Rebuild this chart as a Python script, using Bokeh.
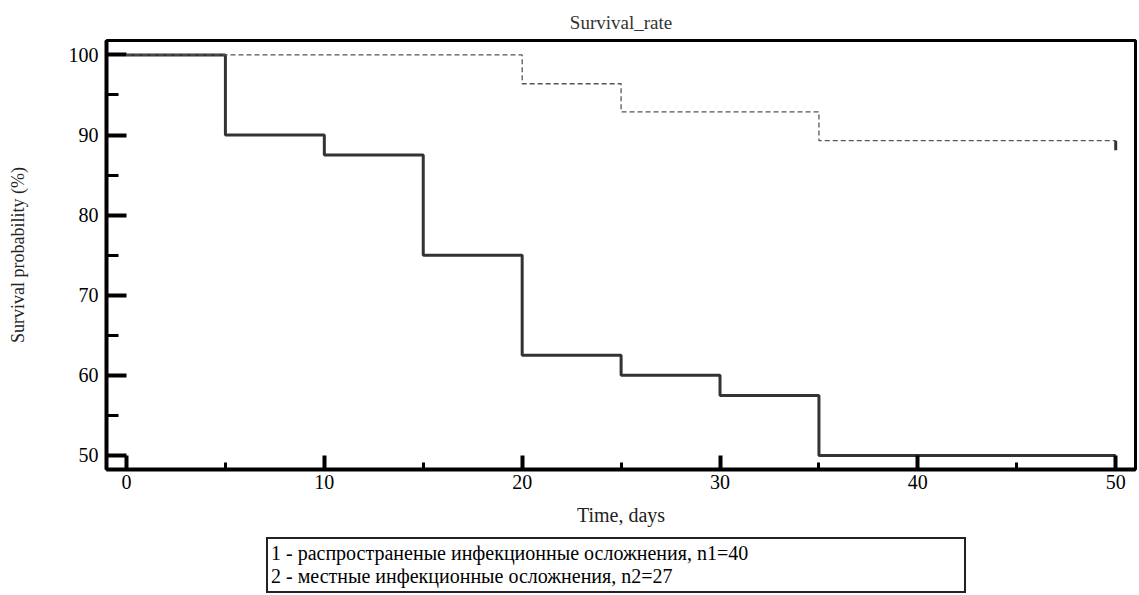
from bokeh.plotting import figure
from bokeh.models import Range1d, FixedTicker, Legend, LegendItem
from bokeh.layouts import column
from bokeh.embed import file_html
from bokeh.resources import INLINE

# ---- data ----
t1 = [0, 5, 10, 15, 20, 25, 30, 35, 50]
s1 = [100, 90, 87.5, 75, 62.5, 60, 57.5, 50, 50]
t2 = [0, 20, 25, 35, 50]
s2 = [100, 96.4, 92.9, 89.3, 89.3]
censor_x = [50]
censor_y0 = [89.3]
censor_y1 = [88.1]
x_major = [0, 10, 20, 30, 40, 50]
x_minor = [5, 15, 25, 35, 45]
y_major = [50, 60, 70, 80, 90, 100]
y_minor = [55, 65, 75, 85, 95]
title_text = "Survival_rate"
x_label = "Time, days"
y_label = "Survival probability (%)"
legend_lines = ["1 - распространеные инфекционные осложнения, n1=40",
                "2 - местные инфекционные осложнения, n2=27"]

FONT = "Liberation Serif"

p = figure(width=1139, height=532, output_backend="svg", toolbar_location=None,
           x_range=Range1d(-1.01, 51.0), y_range=Range1d(48.25, 101.8),
           min_border_left=106, min_border_right=4, min_border_top=40, min_border_bottom=63)

p.title.text = title_text
p.title.align = "center"
p.title.vertical_align = "middle"
p.title.text_font = FONT
p.title.text_font_size = "19px"
p.title.text_font_style = "normal"
p.title.text_color = "#333333"
p.title.standoff = 14

p.outline_line_color = "black"
p.outline_line_width = 3
p.grid.visible = False
p.background_fill_color = "white"
p.border_fill_color = "white"

p.step(t1, s1, mode="after", line_color="#333333", line_width=3)
p.step(t2, s2, mode="after", line_color="#555555", line_width=1.3, line_dash="5 3")
p.segment(x0=censor_x, y0=censor_y0, x1=censor_x, y1=censor_y1, line_color="#333333", line_width=3)

xa = p.xaxis[0]
xa.ticker = FixedTicker(ticks=x_major, minor_ticks=x_minor)
xa.major_tick_in = 14
xa.major_tick_out = 0
xa.minor_tick_in = 7
xa.minor_tick_out = 0
xa.major_tick_line_width = 4
xa.minor_tick_line_width = 3
xa.axis_line_width = 4
xa.axis_line_color = "black"
xa.major_tick_line_color = "black"
xa.minor_tick_line_color = "black"
xa.major_label_text_font = FONT
xa.major_label_text_font_size = "20px"
xa.major_label_text_color = "black"
xa.major_label_standoff = 5
xa.axis_label = x_label
xa.axis_label_text_font = FONT
xa.axis_label_text_font_size = "20px"
xa.axis_label_text_font_style = "normal"
xa.axis_label_text_color = "#222222"
xa.axis_label_standoff = 12

ya = p.yaxis[0]
ya.ticker = FixedTicker(ticks=y_major, minor_ticks=y_minor)
ya.major_tick_in = 20
ya.major_tick_out = 0
ya.minor_tick_in = 12
ya.minor_tick_out = 0
ya.major_tick_line_width = 4
ya.minor_tick_line_width = 3
ya.axis_line_width = 4
ya.axis_line_color = "black"
ya.major_tick_line_color = "black"
ya.minor_tick_line_color = "black"
ya.major_label_text_font = FONT
ya.major_label_text_font_size = "20px"
ya.major_label_text_color = "black"
ya.major_label_standoff = 8
ya.axis_label = y_label
ya.axis_label_text_font = FONT
ya.axis_label_text_font_size = "18px"
ya.axis_label_text_font_style = "normal"
ya.axis_label_text_color = "#222222"
ya.axis_label_standoff = 38

# ---- legend strip under the chart (the reference legend has text only, no samples) ----
q = figure(width=1139, height=63, output_backend="svg", toolbar_location=None,
           x_range=Range1d(0, 1), y_range=Range1d(0, 1),
           x_axis_location=None, y_axis_location=None,
           min_border_left=0, min_border_right=0, min_border_top=0, min_border_bottom=0)
q.outline_line_color = None
q.grid.visible = False
q.background_fill_color = "white"
q.border_fill_color = "white"
d1 = q.line(x=[], y=[], line_alpha=0)
d2 = q.line(x=[], y=[], line_alpha=0)
legend = Legend(items=[LegendItem(label=legend_lines[0], renderers=[d1]),
                       LegendItem(label=legend_lines[1], renderers=[d2])],
                location=(160, 2), orientation="vertical",
                glyph_width=0, glyph_height=21, label_standoff=0,
                label_width=690, label_height=21, spacing=0, padding=3, margin=0,
                label_text_font=FONT, label_text_font_size="20px", label_text_color="black",
                border_line_color="#222222", border_line_width=2, border_line_alpha=1.0,
                background_fill_color="white", background_fill_alpha=1.0)
q.add_layout(legend)

open("out.html", "w").write(file_html(column(p, q, spacing=0), INLINE))
